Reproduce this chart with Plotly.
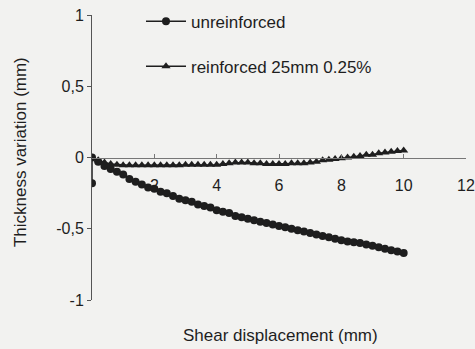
import plotly.graph_objects as go

x_unreinf = [0, 0, 0.2, 0.4, 0.6, 0.8, 1.0, 1.2, 1.4, 1.6, 1.8, 2.0, 2.2, 2.4, 2.6, 2.8, 3.0,
             3.2, 3.4, 3.6, 3.8, 4.0, 4.2, 4.4, 4.6, 4.8, 5.0, 5.2, 5.4, 5.6, 5.8, 6.0,
             6.2, 6.4, 6.6, 6.8, 7.0, 7.2, 7.4, 7.6, 7.8, 8.0, 8.2, 8.4, 8.6, 8.8, 9.0,
             9.2, 9.4, 9.6, 9.8, 10.0]
y_unreinf = [-0.18, 0, -0.03, -0.06, -0.08, -0.10, -0.12, -0.15, -0.17, -0.19, -0.21, -0.22,
             -0.24, -0.25, -0.27, -0.29, -0.30, -0.31, -0.33, -0.34, -0.35, -0.37, -0.38,
             -0.39, -0.41, -0.42, -0.43, -0.44, -0.45, -0.46, -0.47, -0.48, -0.49, -0.50,
             -0.51, -0.52, -0.53, -0.54, -0.55, -0.56, -0.57, -0.58, -0.59, -0.595, -0.60,
             -0.61, -0.62, -0.63, -0.64, -0.65, -0.66, -0.67]

x_reinf = [0, 0.2, 0.4, 0.6, 0.8, 1.0, 1.2, 1.4, 1.6, 1.8, 2.0, 2.2, 2.4, 2.6, 2.8, 3.0,
           3.2, 3.4, 3.6, 3.8, 4.0, 4.2, 4.4, 4.6, 4.8, 5.0, 5.2, 5.4, 5.6, 5.8, 6.0,
           6.2, 6.4, 6.6, 6.8, 7.0, 7.2, 7.4, 7.6, 7.8, 8.0, 8.2, 8.4, 8.6, 8.8, 9.0,
           9.2, 9.4, 9.6, 9.8, 10.0]
y_reinf = [0, -0.02, -0.035, -0.045, -0.05, -0.055, -0.055, -0.055, -0.055, -0.055, -0.055,
           -0.055, -0.055, -0.055, -0.055, -0.05, -0.05, -0.05, -0.05, -0.05, -0.05, -0.045,
           -0.04, -0.035, -0.035, -0.035, -0.04, -0.04, -0.045, -0.045, -0.045, -0.045,
           -0.04, -0.04, -0.04, -0.035, -0.03, -0.02, -0.015, -0.01, -0.005, 0.0, 0.005,
           0.01, 0.02, 0.02, 0.03, 0.035, 0.04, 0.045, 0.05]

x_ticks = [2, 4, 6, 8, 10, 12]
y_ticks = [-1, -0.5, 0, 0.5, 1]
y_ticktext = ["-1", "-0,5", "0", "0,5", "1"]

ink = "#1e1e1e"
font = "Liberation Sans, Arial, sans-serif"
bg = "#f2f2f0"

fig = go.Figure()
fig.add_trace(go.Scatter(x=x_unreinf, y=y_unreinf, mode="lines+markers", name="unreinforced",
                         legendgroup="g0",
                         line=dict(color=ink, width=1.5),
                         marker=dict(symbol="circle", size=8, color=ink)))
fig.add_trace(go.Scatter(x=x_reinf, y=y_reinf, mode="lines+markers",
                         name="reinforced 25mm 0.25%", legendgroup="g1",
                         line=dict(color=ink, width=1.5),
                         marker=dict(symbol="triangle-up", size=8, color=ink)))

fig.update_layout(
    width=475, height=349,
    margin=dict(l=92, r=9, t=15, b=49, autoexpand=False),
    paper_bgcolor=bg, plot_bgcolor=bg,
    font=dict(family=font, size=16, color=ink),
    showlegend=True,
    legend=dict(x=0.131, y=1.04, xanchor="left", yanchor="top",
                bgcolor="rgba(0,0,0,0)", font=dict(size=17),
                tracegroupgap=20, traceorder="grouped", itemwidth=40),
    xaxis=dict(range=[0, 12], tickvals=x_ticks, showgrid=False, zeroline=False,
               showline=True, linecolor="#777", linewidth=1,
               anchor="free", position=0.5, automargin=False,
               ticks="inside", ticklen=4, tickcolor="#777",
               ticklabelstandoff=13, ticklabeloverflow="allow",
               tickfont=dict(size=16)),
    yaxis=dict(range=[-1, 1], tickvals=y_ticks, ticktext=y_ticktext, showgrid=False,
               zeroline=False, showline=True, linecolor="#555", linewidth=1,
               ticks="outside", ticklen=4, tickcolor="#555", automargin=False,
               ticklabeloverflow="allow",
               tickfont=dict(size=16)),
    annotations=[
        dict(text="Shear displacement (mm)", x=0.503, y=-0.123, xref="paper",
             yref="paper", xanchor="center", yanchor="middle", showarrow=False,
             font=dict(size=17)),
        dict(text="Thickness variation (mm)", x=-0.1925, y=0.519, xref="paper",
             yref="paper", xanchor="center", yanchor="middle", showarrow=False,
             textangle=-90, font=dict(size=17)),
    ],
)

post = ("document.body.style.margin='0';"
        "document.body.style.overflow='hidden';"
        "document.documentElement.style.overflow='hidden';"
        f"document.body.style.background='{bg}';")
fig.write_html("out.html", post_script=post, config={"displayModeBar": False})
